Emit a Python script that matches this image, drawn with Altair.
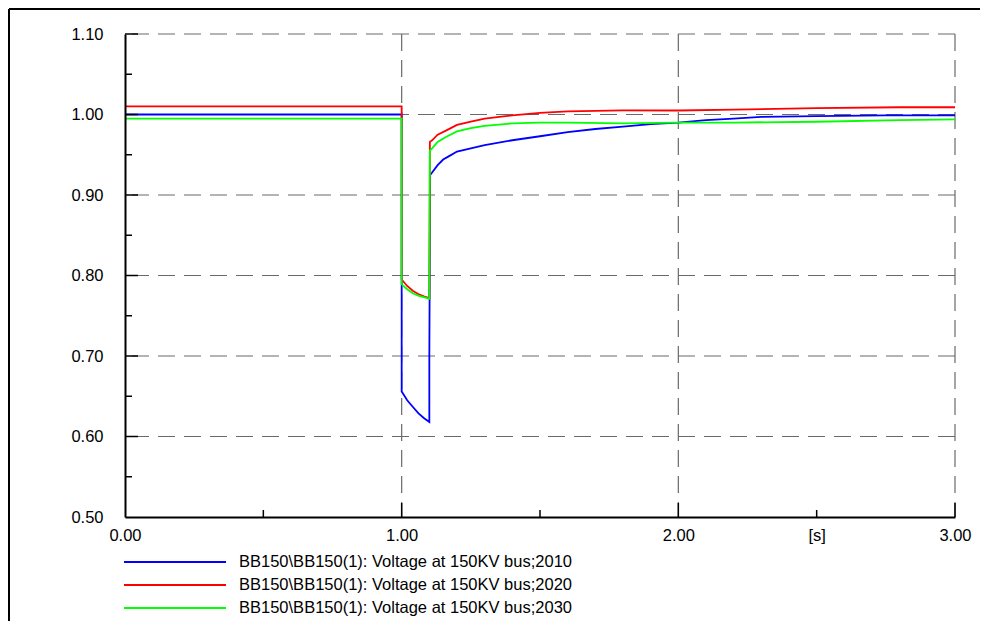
import altair as alt
import pandas as pd

series_names = [
    "BB150\\BB150(1): Voltage at 150KV bus;2010",
    "BB150\\BB150(1): Voltage at 150KV bus;2020",
    "BB150\\BB150(1): Voltage at 150KV bus;2030",
]
series_colors = ["#0000ff", "#ff0000", "#00ff00"]

t_2010 = [0.0, 1.0, 1.0, 1.02, 1.04, 1.06, 1.08, 1.1, 1.1, 1.103, 1.11, 1.13, 1.15, 1.17, 1.2, 1.3, 1.4, 1.5,
          1.6, 1.7, 1.8, 1.9, 2.0, 2.1, 2.2, 2.3, 2.5, 2.75, 3.0]
v_2010 = [1.000, 1.000, 0.656, 0.645, 0.637, 0.629, 0.623, 0.618, 0.700, 0.925, 0.928, 0.937, 0.944, 0.948,
          0.954, 0.962, 0.968, 0.973, 0.978, 0.982, 0.985, 0.988, 0.990, 0.993, 0.995, 0.997, 0.998, 0.999, 0.999]

t_2020 = [0.0, 1.0, 1.0, 1.02, 1.04, 1.06, 1.08, 1.1, 1.102, 1.11, 1.13, 1.16, 1.2, 1.25, 1.3, 1.4, 1.5, 1.6,
          1.8, 2.0, 2.2, 2.5, 2.8, 3.0]
v_2020 = [1.010, 1.010, 0.795, 0.787, 0.781, 0.777, 0.774, 0.772, 0.966, 0.968, 0.975, 0.980, 0.987, 0.991,
          0.995, 0.999, 1.002, 1.004, 1.005, 1.005, 1.006, 1.008, 1.009, 1.009]

t_2030 = [0.0, 1.0, 1.0, 1.02, 1.04, 1.06, 1.08, 1.1, 1.102, 1.11, 1.13, 1.16, 1.2, 1.25, 1.3, 1.4, 1.5, 1.6,
          1.8, 2.0, 2.2, 2.5, 2.8, 3.0]
v_2030 = [0.995, 0.995, 0.789, 0.783, 0.778, 0.775, 0.773, 0.771, 0.955, 0.958, 0.966, 0.972, 0.979, 0.983,
          0.986, 0.989, 0.990, 0.990, 0.989, 0.990, 0.990, 0.991, 0.993, 0.994]

x_label_values = [0.0, 1.0, 2.0, 2.5, 3.0]
y_label_values = [0.5, 0.6, 0.7, 0.8, 0.9, 1.0, 1.1]
x_grid = [1.0, 2.0, 3.0]
y_grid = [0.6, 0.7, 0.8, 0.9, 1.0, 1.1]
x_major_ticks = [1.0, 2.0, 3.0]
x_minor_ticks = [0.5, 1.5, 2.5]
y_major_ticks = [0.6, 0.7, 0.8, 0.9, 1.0, 1.1]
y_minor_ticks = [0.55, 0.65, 0.75, 0.85, 0.95, 1.05]

rows = []
for name, ts, vs in zip(series_names, [t_2010, t_2020, t_2030], [v_2010, v_2020, v_2030]):
    for i, (t, v) in enumerate(zip(ts, vs)):
        rows.append({"series": name, "t": t, "v": v, "i": i})
df = pd.DataFrame(rows)

W, H = 830, 483
FONT = "Liberation Sans, Arial"
FS = 16.5
xs = alt.Scale(domain=[0, 3], nice=False, zero=False)
ys = alt.Scale(domain=[0.5, 1.1], nice=False, zero=False)

grid_y = alt.Chart(pd.DataFrame({"v": y_grid})).mark_rule(
    color="#6a6a6a", strokeWidth=1.2, strokeDash=[17, 9]
).encode(y=alt.Y("v:Q", scale=ys))
grid_x = alt.Chart(pd.DataFrame({"t": x_grid})).mark_rule(
    color="#6a6a6a", strokeWidth=1.2, strokeDash=[17, 9]
).encode(x=alt.X("t:Q", scale=xs))

lines = alt.Chart(df).mark_line(strokeWidth=1.8, clip=True).encode(
    x=alt.X("t:Q", scale=xs, title=None,
            axis=alt.Axis(values=x_label_values, ticks=False, grid=False, domain=True,
                          domainColor="black", domainWidth=2, labelFlush=False, labelOverlap=False,
                          labelExpr="datum.value == 2.5 ? '[s]' : format(datum.value, '.2f')",
                          labelFont=FONT, labelFontSize=FS, labelColor="black", labelPadding=10,
                          zindex=1)),
    y=alt.Y("v:Q", scale=ys, title=None,
            axis=alt.Axis(values=y_label_values, format=".2f", ticks=False, grid=False, domain=True,
                          domainColor="black", domainWidth=2, labelFlush=False, labelOverlap=False,
                          labelFont=FONT, labelFontSize=FS, labelColor="black", labelPadding=22,
                          zindex=1)),
    color=alt.Color("series:N", scale=alt.Scale(domain=series_names, range=series_colors), legend=None),
    order=alt.Order("i:Q"),
)

ytick_major = alt.Chart(pd.DataFrame({"v": y_major_ticks})).mark_rule(color="black", strokeWidth=1.5).encode(
    y=alt.Y("v:Q", scale=ys), x=alt.value(0), x2=alt.value(13))
ytick_minor = alt.Chart(pd.DataFrame({"v": y_minor_ticks})).mark_rule(color="black", strokeWidth=1.5).encode(
    y=alt.Y("v:Q", scale=ys), x=alt.value(0), x2=alt.value(7))
xtick_major = alt.Chart(pd.DataFrame({"t": x_major_ticks})).mark_rule(color="black", strokeWidth=1.5).encode(
    x=alt.X("t:Q", scale=xs), y=alt.value(H), y2=alt.value(H - 14))
xtick_minor = alt.Chart(pd.DataFrame({"t": x_minor_ticks})).mark_rule(color="black", strokeWidth=1.5).encode(
    x=alt.X("t:Q", scale=xs), y=alt.value(H), y2=alt.value(H - 7))

legend_layers = []
for k, (name, col) in enumerate(zip(series_names, series_colors)):
    ld = pd.DataFrame({"name": [name]})
    yk = 528 + 23 * k
    legend_layers.append(
        alt.Chart(ld).mark_rule(color=col, strokeWidth=2).encode(
            x=alt.value(-1), x2=alt.value(101), y=alt.value(yk)))
    legend_layers.append(
        alt.Chart(ld).mark_text(align="left", baseline="middle", font=FONT, fontSize=FS, color="black").encode(
            x=alt.value(114), y=alt.value(yk), text="name:N"))

frame_df = pd.DataFrame({"a": [0]})
frame_top = alt.Chart(frame_df).mark_rule(color="black", strokeWidth=2).encode(
    x=alt.value(-116), x2=alt.value(W + 25), y=alt.value(-25))
frame_left = alt.Chart(frame_df).mark_rule(color="black", strokeWidth=2).encode(
    x=alt.value(-116), y=alt.value(-25), y2=alt.value(H + 104))

chart = alt.layer(
    grid_y, grid_x, lines, ytick_major, ytick_minor, xtick_major, xtick_minor,
    *legend_layers, frame_top, frame_left
).properties(
    width=W, height=H, autosize="none",
    padding={"left": 117, "top": 26, "right": 25, "bottom": 104},
    background="white",
).configure_view(stroke=None)

chart.save("out.html", embed_options={"renderer": "svg", "actions": False})
